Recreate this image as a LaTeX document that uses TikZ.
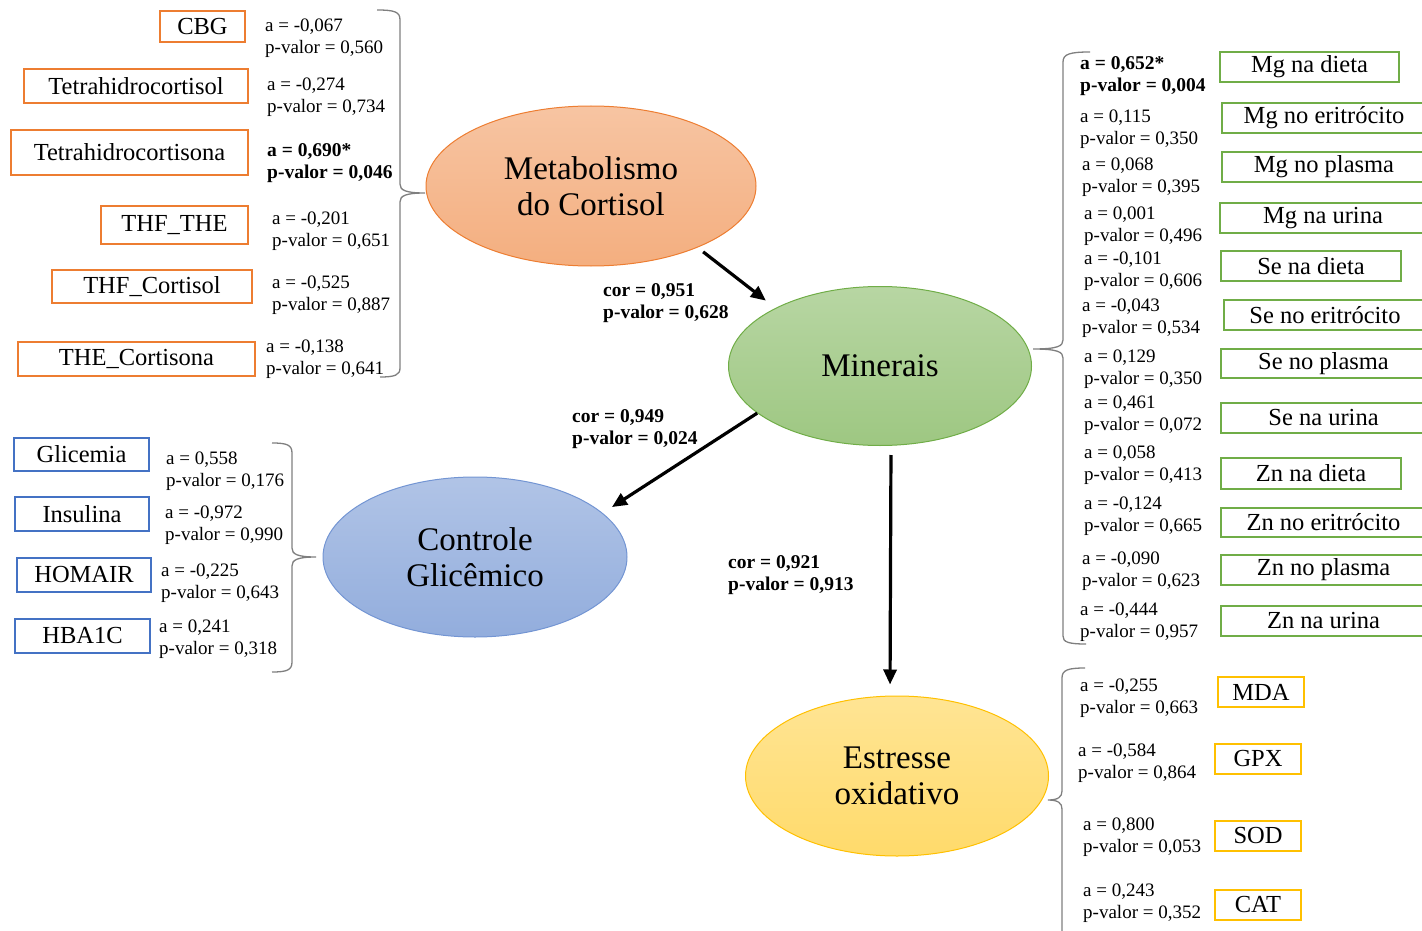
\documentclass[tikz,border=0pt]{standalone}
\usepackage{fontspec}
\setmainfont{Liberation Serif}
\usetikzlibrary{shapes.geometric,arrows.meta}

\definecolor{cortline}{HTML}{ED7D31}
\definecolor{glicline}{HTML}{4472C4}
\definecolor{minline}{HTML}{70AD47}
\definecolor{stressline}{HTML}{FFC000}
\definecolor{bracegray}{HTML}{7F7F7F}

\tikzset{
  oval/.style={ellipse, inner sep=0pt, align=center, line width=1pt,
    font=\fontsize{33}{36}\selectfont},
  varbox/.style={draw, line width=1.6pt, inner sep=0pt, minimum height=32pt,
    font=\fontsize{24.5}{24.5}\selectfont},
  cortbox/.style={varbox, draw=cortline},
  glicbox/.style={varbox, draw=glicline},
  minbox/.style={varbox, draw=minline, minimum height=30pt},
  stressbox/.style={varbox, draw=stressline, minimum height=30pt},
  stat/.style={anchor=west, align=left, inner sep=0pt, yshift=-2pt,
    font=\fontsize{19}{22}\selectfont},
  statbold/.style={stat, font=\fontsize{19.5}{22}\selectfont\bfseries},
  curl/.style={draw=bracegray, line width=1.3pt},
  link/.style={line width=3.2pt, -{Triangle[length=15pt,width=13pt]}}
}

\begin{document}
\begin{tikzpicture}[x=1pt,y=-1pt]
\useasboundingbox (0,0) rectangle (1422,931);
\clip (0,0) rectangle (1422,931);

% ellipses
\node[oval, draw=cortline, top color=cortline!45!white, bottom color=cortline!62!white,
  minimum width=330pt, minimum height=160pt] (meta) at (591,186) {Metabolismo\\do Cortisol};
\node[oval, draw=minline, top color=minline!50!white, bottom color=minline!68!white,
  minimum width=303pt, minimum height=159pt] (min) at (880,366) {Minerais};
\node[oval, draw=glicline!75!white, top color=glicline!42!white, bottom color=glicline!58!white,
  minimum width=304pt, minimum height=160pt] (glic) at (475,557) {Controle\\Glicêmico};
\node[oval, draw=stressline, top color=stressline!42!white, bottom color=stressline!58!white,
  minimum width=303pt, minimum height=160pt] (stress) at (897,776) {Estresse\\oxidativo};

% arrows
\draw[link, shorten <=7pt, shorten >=12pt] (meta.-30) -- (min.151);
\node[statbold] (l1) at (603,301) {cor = 0,951\\p-valor = 0,628};
\draw[link, shorten >=11pt] (min.201) -- (glic.19);
\node[statbold] (l2) at (572,427) {cor = 0,949\\p-valor = 0,024};
\draw[link, shorten <=9pt, shorten >=11pt] ([xshift=11pt]min.south) -- ([xshift=-7pt]stress.north);
\node[statbold] (l3) at (728,573) {cor = 0,921\\p-valor = 0,913};

% cortisol
\node[cortbox, minimum width=85pt, minimum height=31pt] (cbg) at (202.5,26.5) {CBG};
\node[cortbox, minimum width=224pt, minimum height=34pt] (thfol) at (136,86) {Tetrahidrocortisol};
\node[cortbox, minimum width=237pt, minimum height=45pt] (thfona) at (129.5,152.5) {Tetrahidrocortisona};
\node[cortbox, minimum width=147pt, minimum height=38pt] (thfthe) at (174.5,225) {THF\_THE};
\node[cortbox, minimum width=200pt, minimum height=33pt] (thfcort) at (152,286.5) {THF\_Cortisol};
\node[cortbox, minimum width=237pt, minimum height=34pt] (thecort) at (136.5,359) {THE\_Cortisona};
\node[stat] (s1) at (265,36) {a = -0,067\\p-valor = 0,560};
\node[stat] (s2) at (267,95) {a = -0,274\\p-valor = 0,734};
\node[statbold] (s3) at (267,161.5) {a = 0,690*\\p-valor = 0,046};
\node[stat] (s4) at (272,229.5) {a = -0,201\\p-valor = 0,651};
\node[stat] (s5) at (272,293) {a = -0,525\\p-valor = 0,887};
\node[stat] (s6) at (266,357) {a = -0,138\\p-valor = 0,641};
\draw[curl] (377,10) .. controls (395,10) and (400,12) .. (400,20) -- (400,184)
  .. controls (400,190) and (405,193) .. (425,193) .. controls (405,193) and (400,196) .. (400,202)
  -- (400,368) .. controls (400,375) and (395,377) .. (380,377);

% glicemico
\node[glicbox, minimum width=135pt, minimum height=33pt] (glicemia) at (81.5,454.5) {Glicemia};
\node[glicbox, minimum width=134pt, minimum height=34pt] (insulina) at (82,514) {Insulina};
\node[glicbox, minimum width=134pt, minimum height=34pt] (homair) at (84,575) {HOMAIR};
\node[glicbox, minimum width=135pt, minimum height=34pt] (hba) at (82.5,636) {HBA1C};
\node[stat] (g1) at (166,469) {a = 0,558\\p-valor = 0,176};
\node[stat] (g2) at (165,523) {a = -0,972\\p-valor = 0,990};
\node[stat] (g3) at (161,581) {a = -0,225\\p-valor = 0,643};
\node[stat] (g4) at (159,637) {a = 0,241\\p-valor = 0,318};
\draw[curl] (272,443) .. controls (287,443) and (292,445) .. (292,453) -- (292,548)
  .. controls (292,554) and (297,557) .. (316,557) .. controls (297,557) and (292,560) .. (292,566)
  -- (292,662) .. controls (292,670) and (287,672) .. (272,672);

% minerais
\node[minbox, minimum width=179pt] (mgdieta) at (1309.5,67) {Mg na dieta};
\node[minbox, minimum width=204pt] (mgerit) at (1324,118) {Mg no eritrócito};
\node[minbox, minimum width=204pt] (mgplasma) at (1324,167) {Mg no plasma};
\node[minbox, minimum width=206pt] (mgurina) at (1323,218) {Mg na urina};
\node[minbox, minimum width=180pt] (sedieta) at (1311,266) {Se na dieta};
\node[minbox, minimum width=202pt] (seerit) at (1325,315) {Se no eritrócito};
\node[minbox, minimum width=205pt, minimum height=29pt] (seplasma) at (1323.5,363.5) {Se no plasma};
\node[minbox, minimum width=205pt] (seurina) at (1323.5,418) {Se na urina};
\node[minbox, minimum width=180pt, minimum height=31pt] (zndieta) at (1311,473.5) {Zn na dieta};
\node[minbox, minimum width=205pt, minimum height=29pt] (znerit) at (1323.5,522.5) {Zn no eritrócito};
\node[minbox, minimum width=205pt] (znplasma) at (1323.5,570) {Zn no plasma};
\node[minbox, minimum width=205pt] (znurina) at (1323.5,621) {Zn na urina};
\node[statbold] (m1) at (1080,74) {a = 0,652*\\p-valor = 0,004};
\node[stat] (m2) at (1080,127) {a = 0,115\\p-valor = 0,350};
\node[stat] (m3) at (1082,175) {a = 0,068\\p-valor = 0,395};
\node[stat] (m4) at (1084,224) {a = 0,001\\p-valor = 0,496};
\node[stat] (m5) at (1084,269) {a = -0,101\\p-valor = 0,606};
\node[stat] (m6) at (1082,316) {a = -0,043\\p-valor = 0,534};
\node[stat] (m7) at (1084,367) {a = 0,129\\p-valor = 0,350};
\node[stat] (m8) at (1084,413) {a = 0,461\\p-valor = 0,072};
\node[stat] (m9) at (1084,463) {a = 0,058\\p-valor = 0,413};
\node[stat] (m10) at (1084,514) {a = -0,124\\p-valor = 0,665};
\node[stat] (m11) at (1082,569) {a = -0,090\\p-valor = 0,623};
\node[stat] (m12) at (1080,620) {a = -0,444\\p-valor = 0,957};
\draw[curl] (1090,52) .. controls (1070,52) and (1063,54) .. (1063,62) -- (1063,340)
  .. controls (1063,346) and (1058,349) .. (1033,349) .. controls (1058,349) and (1063,352) .. (1063,358)
  -- (1063,636) .. controls (1063,642) and (1068,644) .. (1086,644);

% estresse
\node[stressbox, minimum width=86pt] (mda) at (1261,692) {MDA};
\node[stressbox, minimum width=86pt] (gpx) at (1258,759) {GPX};
\node[stressbox, minimum width=86pt] (sod) at (1258,836) {SOD};
\node[stressbox, minimum width=86pt] (cat) at (1258,905) {CAT};
\node[stat] (e1) at (1080,696) {a = -0,255\\p-valor = 0,663};
\node[stat] (e2) at (1078,761) {a = -0,584\\p-valor = 0,864};
\node[stat] (e3) at (1083,835) {a = 0,800\\p-valor = 0,053};
\node[stat] (e4) at (1083,901) {a = 0,243\\p-valor = 0,352};
\draw[curl] (1085,668) .. controls (1068,668) and (1062,670) .. (1062,678) -- (1062,791)
  .. controls (1062,797) and (1058,800) .. (1048,800) .. controls (1058,800) and (1062,803) .. (1062,809)
  -- (1062,940);
\end{tikzpicture}
\end{document}
